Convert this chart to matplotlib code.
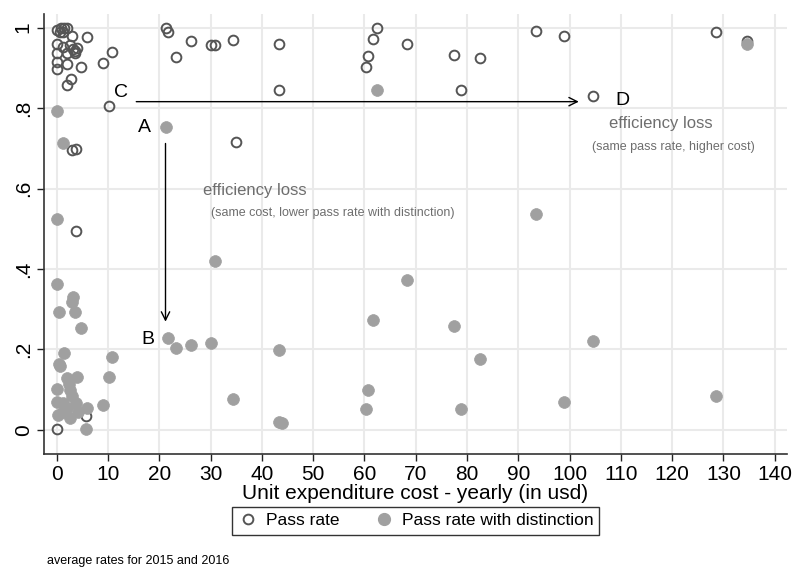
import matplotlib
matplotlib.use('Agg')
import matplotlib.pyplot as plt
from matplotlib.lines import Line2D

plt.rcParams['font.family'] = ['Liberation Sans', 'DejaVu Sans']

# pass rate (hollow circles)
pass_x = [0.0, 0.8, 1.5, 2.0, 0.6, 1.2, 2.9, 5.8, 0.0, 1.2, 2.6, 3.2, 4.0, 3.5,
          0.0, 1.9, 3.6, 10.7, 0.0, 1.9, 0.0, 4.8, 9.1, 2.7, 1.9, 10.2, 2.9, 3.8,
          3.8, 5.7, 0.0,
          21.2, 21.6, 23.3, 26.1, 30.0, 30.9, 34.4, 43.3, 43.4, 34.9, 62.4, 61.6,
          60.7, 60.3, 68.3, 77.4, 82.5, 78.8, 93.4, 98.9, 128.5, 134.6, 104.6]
pass_y = [0.995, 1.0, 0.998, 1.0, 0.99, 0.99, 0.98, 0.976, 0.96, 0.953, 0.958, 0.948, 0.95, 0.942,
          0.936, 0.936, 0.936, 0.94, 0.915, 0.91, 0.898, 0.903, 0.913, 0.873, 0.857, 0.806, 0.696, 0.699,
          0.495, 0.035, 0.002,
          1.0, 0.99, 0.927, 0.968, 0.957, 0.958, 0.97, 0.96, 0.846, 0.715, 1.0, 0.973,
          0.93, 0.903, 0.96, 0.932, 0.925, 0.846, 0.992, 0.978, 0.99, 0.966, 0.83]

# pass rate with distinction (filled circles)
dist_x = [0.1, 1.2, 0.1, 0.1, 3.2, 2.9, 0.5, 3.6, 4.7, 1.4, 10.7, 0.6, 0.4, 1.9,
          3.9, 10.1, 2.4, 0.1, 2.6, 0.0, 1.3, 3.8, 5.8, 9.1, 0.3, 2.6, 4.2, 5.65,
          1.2, 3.0, 2.0,
          21.2, 62.4, 134.6, 93.4, 30.9, 68.3, 61.6, 77.4, 21.7, 23.3, 26.1, 30.0,
          43.3, 82.5, 104.6, 34.4, 60.6, 60.3, 78.8, 98.9, 128.5, 43.4, 44.0]
dist_y = [0.793, 0.714, 0.524, 0.363, 0.331, 0.319, 0.292, 0.292, 0.254, 0.19, 0.182, 0.159, 0.165, 0.128,
          0.131, 0.132, 0.115, 0.101, 0.1, 0.07, 0.066, 0.068, 0.054, 0.062, 0.037, 0.029, 0.045, 0.002,
          0.045, 0.085, 0.055,
          0.752, 0.845, 0.96, 0.537, 0.42, 0.373, 0.273, 0.258, 0.228, 0.203, 0.21, 0.216,
          0.199, 0.176, 0.22, 0.077, 0.099, 0.053, 0.053, 0.069, 0.085, 0.02, 0.018]

xticks = list(range(0, 141, 10))
yticks = [0, 0.2, 0.4, 0.6, 0.8, 1.0]
ytick_labels = ['0', '.2', '.4', '.6', '.8', '1']

hollow_col = '#555555'
fill_col = '#a0a0a0'
note_col = '#6e6e6e'

fig = plt.figure(figsize=(8.01, 5.68), dpi=100)
ax = fig.add_axes([0.0549, 0.2007, 0.9276, 0.7747])

ax.plot(pass_x, pass_y, 'o', ms=7, mfc='none', mec=hollow_col, mew=1.4, ls='none', zorder=3)
ax.plot(dist_x, dist_y, 'o', ms=8.5, mfc=fill_col, mec=fill_col, mew=0.5, ls='none', zorder=4)

ax.set_xlim(-2.5, 142.4)
ax.set_ylim(-0.06, 1.034)
ax.set_xticks(xticks)
ax.set_yticks(yticks)
ax.set_yticklabels(ytick_labels, rotation=90, va='center')
ax.tick_params(labelsize=15, length=5, width=1, color='#222222', pad=3)
ax.grid(True, color='#eaeaea', lw=1.5, zorder=0)
ax.set_axisbelow(True)
for s in ['top', 'right']:
    ax.spines[s].set_visible(False)
for s in ['left', 'bottom']:
    ax.spines[s].set_color('#333333')
    ax.spines[s].set_linewidth(1.2)
ax.set_xlabel('Unit expenditure cost - yearly (in usd)', fontsize=15, labelpad=0)

# annotations
lab = dict(fontsize=14, color='black', va='center', ha='center')
ax.text(12.5, 0.84, 'C', **lab)
ax.text(110.4, 0.82, 'D', **lab)
ax.text(17.0, 0.752, 'A', **lab)
ax.text(17.7, 0.225, 'B', **lab)
arrow = dict(arrowstyle='->,head_length=0.6,head_width=0.3', lw=1, color='black',
             shrinkA=0, shrinkB=0)
ax.annotate('', xy=(101.8, 0.816), xytext=(15.5, 0.816), arrowprops=arrow)
ax.annotate('', xy=(21.2, 0.269), xytext=(21.2, 0.712), arrowprops=arrow)
gray = dict(color=note_col, va='center', ha='left')
ax.text(28.6, 0.596, 'efficiency loss', fontsize=12, **gray)
ax.text(30.1, 0.54, '(same cost, lower pass rate with distinction)', fontsize=9, **gray)
ax.text(107.6, 0.762, 'efficiency loss', fontsize=12, **gray)
ax.text(104.4, 0.704, '(same pass rate, higher cost)', fontsize=9, **gray)

handles = [Line2D([], [], marker='o', ls='none', ms=7, mfc='none', mec=hollow_col, mew=1.4),
           Line2D([], [], marker='o', ls='none', ms=8.5, mfc=fill_col, mec=fill_col)]
leg = fig.legend(handles, ['Pass rate', 'Pass rate with distinction'], loc='center',
                 bbox_to_anchor=(0.519, 0.083), ncol=2, fontsize=12.5, frameon=True,
                 fancybox=False, edgecolor='black', handletextpad=0.4, columnspacing=2.0,
                 borderpad=0.35, handlelength=1.2)
leg.get_frame().set_linewidth(1.0)

fig.text(47 / 801, 1 - 561 / 568, 'average rates for 2015 and 2016', fontsize=9, va='center')

fig.savefig('out.png', dpi=100)
